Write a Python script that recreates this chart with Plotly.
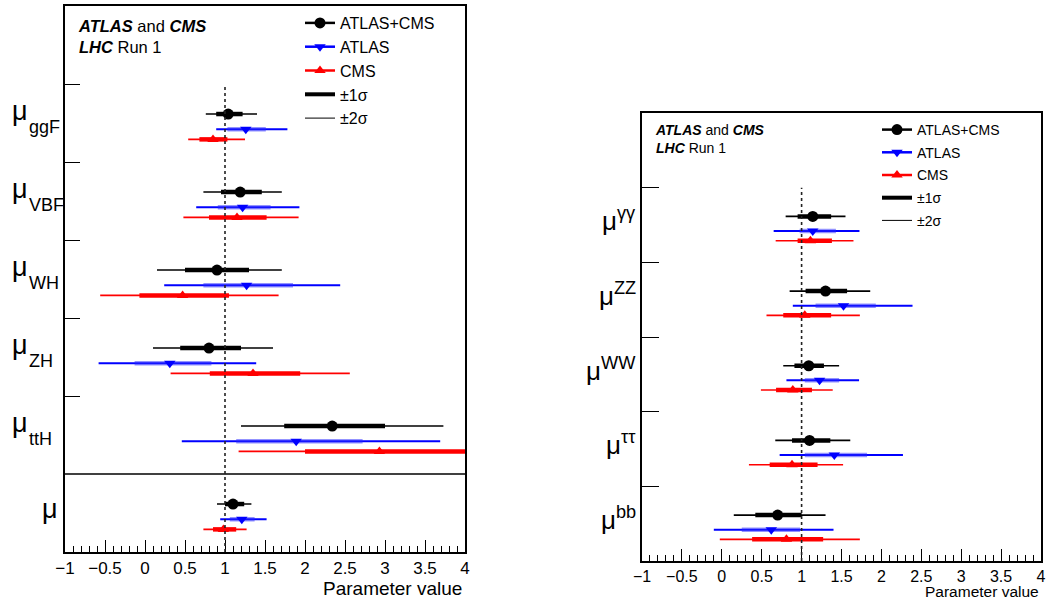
import numpy as np
import plotly.graph_objects as go

# ---------------- data ----------------
prod_names = ["ggF", "VBF", "WH", "ZH", "ttH", ""]   # last = global mu
prod_slots = [5, 4, 3, 2, 1, 0]

comb_c   = [1.04, 1.19, 0.90, 0.80, 2.34, 1.10]
comb_lo1 = [0.89, 0.95, 0.50, 0.44, 1.74, 1.00]
comb_hi1 = [1.22, 1.46, 1.30, 1.20, 3.00, 1.24]
comb_lo2 = [0.76, 0.73, 0.15, 0.10, 1.20, 0.90]
comb_hi2 = [1.40, 1.71, 1.71, 1.60, 3.73, 1.33]

atlas_c   = [1.26, 1.22, 1.27, 0.31, 1.89, 1.21]
atlas_lo1 = [1.03, 0.91, 0.73, -0.13, 1.14, 1.06]
atlas_hi1 = [1.51, 1.57, 1.85, 0.83, 2.72, 1.37]
atlas_lo2 = [0.89, 0.64, 0.24, -0.58, 0.46, 0.94]
atlas_hi2 = [1.78, 1.93, 2.44, 1.39, 3.69, 1.52]

cms_c   = [0.85, 1.15, 0.47, 1.35, 2.93, 0.98]
cms_lo1 = [0.68, 0.80, -0.07, 0.81, 2.00, 0.85]
cms_hi1 = [1.03, 1.52, 1.05, 1.94, 4.10, 1.14]
cms_lo2 = [0.54, 0.48, -0.56, 0.32, 1.17, 0.73]
cms_hi2 = [1.25, 1.92, 1.67, 2.56, 5.00, 1.27]

decay_names = ["γγ", "ZZ", "WW", "ττ", "bb"]
decay_slots = [4, 3, 2, 1, 0]

dcomb_c   = [1.14, 1.30, 1.09, 1.10, 0.70]
dcomb_lo1 = [0.95, 1.05, 0.91, 0.88, 0.42]
dcomb_hi1 = [1.37, 1.57, 1.28, 1.36, 1.00]
dcomb_lo2 = [0.80, 0.85, 0.77, 0.67, 0.15]
dcomb_hi2 = [1.55, 1.86, 1.47, 1.61, 1.30]

datlas_c   = [1.14, 1.525, 1.225, 1.41, 0.62]
datlas_lo1 = [0.975, 1.175, 1.04, 1.04, 0.25]
datlas_hi1 = [1.43, 1.93, 1.47, 1.82, 0.98]
datlas_lo2 = [0.65, 0.89, 0.81, 0.725, -0.10]
datlas_hi2 = [1.725, 2.39, 1.72, 2.27, 1.40]

dcms_c   = [1.11, 1.04, 0.89, 0.88, 0.81]
dcms_lo1 = [0.95, 0.77, 0.68, 0.60, 0.38]
dcms_hi1 = [1.38, 1.37, 1.13, 1.20, 1.27]
dcms_lo2 = [0.675, 0.56, 0.49, 0.34, -0.025]
dcms_hi2 = [1.65, 1.73, 1.39, 1.52, 1.73]

x_ticks = [-1, -0.5, 0, 0.5, 1, 1.5, 2, 2.5, 3, 3.5, 4]

# ---------------- style ----------------
FONT = "Liberation Sans, Arial, Helvetica, sans-serif"
W, H = 1047, 602
series_style = {
    "comb":  dict(name="ATLAS+CMS", color="black", c1="black", sym="circle", size=11, off=0.615, th2=1.6),
    "atlas": dict(name="ATLAS", color="#0000ff", c1="rgba(40,40,255,0.5)", sym="triangle-down", size=10, off=0.42, th2=2.0),
    "cms":   dict(name="CMS", color="#ff0000", c1="#ff0000", sym="triangle-up", size=10, off=0.29, th2=1.6),
}

fig = go.Figure()


def add_series(key, c, lo1, hi1, lo2, hi2, slots, xa, ya):
    st = series_style[key]
    c = np.array(c); lo1 = np.array(lo1); hi1 = np.array(hi1)
    lo2 = np.array(lo2); hi2 = np.array(hi2)
    y = np.array(slots) + st["off"]
    fig.add_trace(go.Scatter(
        x=c, y=y, mode="markers", xaxis=xa, yaxis=ya,
        marker=dict(color="rgba(0,0,0,0)", size=1),
        error_x=dict(type="data", symmetric=False, array=hi2 - c, arrayminus=c - lo2,
                     width=0, thickness=st["th2"], color=st["color"]),
        showlegend=False, hoverinfo="skip"))
    fig.add_trace(go.Scatter(
        x=c, y=y, mode="markers", xaxis=xa, yaxis=ya,
        marker=dict(color=st["color"], size=st["size"], symbol=st["sym"]),
        error_x=dict(type="data", symmetric=False, array=hi1 - c, arrayminus=c - lo1,
                     width=0, thickness=4.5, color=st["c1"]),
        showlegend=False))


add_series("comb", comb_c, comb_lo1, comb_hi1, comb_lo2, comb_hi2, prod_slots, "x", "y")
add_series("atlas", atlas_c, atlas_lo1, atlas_hi1, atlas_lo2, atlas_hi2, prod_slots, "x", "y")
add_series("cms", cms_c, cms_lo1, cms_hi1, cms_lo2, cms_hi2, prod_slots, "x", "y")
add_series("comb", dcomb_c, dcomb_lo1, dcomb_hi1, dcomb_lo2, dcomb_hi2, decay_slots, "x2", "y2")
add_series("atlas", datlas_c, datlas_lo1, datlas_hi1, datlas_lo2, datlas_hi2, decay_slots, "x2", "y2")
add_series("cms", dcms_c, dcms_lo1, dcms_hi1, dcms_lo2, dcms_hi2, decay_slots, "x2", "y2")

# legend entries (both panels); one legend group per entry so tracegroupgap sets row spacing
for lg, xa, ya in [("legend", "x", "y"), ("legend2", "x2", "y2")]:
    for key in ["comb", "atlas", "cms"]:
        st = series_style[key]
        fig.add_trace(go.Scatter(x=[None], y=[None], xaxis=xa, yaxis=ya, mode="lines+markers",
                                 name=st["name"], legend=lg, legendgroup=lg + key,
                                 line=dict(color=st["color"], width=2.5),
                                 marker=dict(color=st["color"], size=st["size"], symbol=st["sym"])))
    fig.add_trace(go.Scatter(x=[None], y=[None], xaxis=xa, yaxis=ya, mode="lines", name="±1σ",
                             legend=lg, legendgroup=lg + "s1", line=dict(color="black", width=4)))
    fig.add_trace(go.Scatter(x=[None], y=[None], xaxis=xa, yaxis=ya, mode="lines", name="±2σ",
                             legend=lg, legendgroup=lg + "s2", line=dict(color="black", width=1)))

# ---------------- axes ----------------
L = dict(x0=65, x1=465, y0=6, y1=552)
R = dict(x0=642, x1=1041, y0=113, y1=561)

xcommon = dict(range=[-1, 4], tickvals=x_ticks, ticks="inside", ticklen=12, tickwidth=1.3,
               tickcolor="black", showline=True, linewidth=1.6, linecolor="black", mirror=True,
               showgrid=False, zeroline=False, automargin=False,
               minor=dict(dtick=0.1, ticks="inside", ticklen=6, tickwidth=1, tickcolor="black",
                          showgrid=False),
               fixedrange=True)
ycommon = dict(ticks="inside", tickwidth=1.3, tickcolor="black", showticklabels=False,
               showline=True, linewidth=1.6, linecolor="black", mirror=True, showgrid=False,
               zeroline=False, automargin=False, fixedrange=True)

fig.update_layout(
    template="none",
    width=W, height=H, autosize=False, margin=dict(l=0, r=0, t=0, b=0, pad=0),
    paper_bgcolor="white", plot_bgcolor="white",
    font=dict(family=FONT, color="black"),
    xaxis=dict(domain=[L["x0"] / W, L["x1"] / W], anchor="y",
               tickfont=dict(family=FONT, size=17, color="black"), **xcommon),
    yaxis=dict(domain=[1 - L["y1"] / H, 1 - L["y0"] / H], anchor="x", range=[0, 7],
               tickvals=[2, 3, 4, 5, 6], ticklen=15, **ycommon),
    xaxis2=dict(domain=[R["x0"] / W, R["x1"] / W], anchor="y2",
                tickfont=dict(family=FONT, size=16, color="black"), **xcommon),
    yaxis2=dict(domain=[1 - R["y1"] / H, 1 - R["y0"] / H], anchor="x2", range=[0, 6],
                tickvals=[1, 2, 3, 4, 5], ticklen=17, **ycommon),
    legend=dict(x=300 / W, y=1 - 6 / H, xanchor="left", yanchor="top",
                font=dict(family=FONT, size=16, color="black"), bgcolor="rgba(0,0,0,0)",
                tracegroupgap=0, itemwidth=30, traceorder="grouped"),
    legend2=dict(x=877 / W, y=1 - 114 / H, xanchor="left", yanchor="top",
                 font=dict(family=FONT, size=14, color="black"), bgcolor="rgba(0,0,0,0)",
                 tracegroupgap=1.5, itemwidth=30, traceorder="grouped"),
    showlegend=True,
)

shapes = []
# separator line in left panel
shapes.append(dict(type="line", xref="x", yref="y", x0=-1, x1=4, y0=1, y1=1,
                   line=dict(color="black", width=1.6)))
# SM reference lines
shapes.append(dict(type="line", xref="x", yref="y", x0=1, x1=1, y0=0, y1=6,
                   line=dict(color="#222", width=1.6, dash="3px,3px")))
shapes.append(dict(type="line", xref="x2", yref="y2", x0=1, x1=1, y0=0, y1=5,
                   line=dict(color="#222", width=1.6, dash="3px,3px")))
fig.update_layout(shapes=shapes)

ann = []
lpx = (L["y1"] - L["y0"]) / 7.0
rpx = (R["y1"] - R["y0"]) / 6.0
# left labels
for name, s in zip(prod_names, prod_slots):
    if name:
        ann.append(dict(text="μ", xref="paper", yref="y", x=19.5 / W, y=s + 1 - 27 / lpx,
                        xanchor="center", yanchor="middle", showarrow=False,
                        font=dict(family=FONT, size=27)))
        ann.append(dict(text=name, xref="paper", yref="y", x=27 / W, y=s + 1 - 43 / lpx,
                        xanchor="left", yanchor="middle", showarrow=False,
                        font=dict(family=FONT, size=18)))
    else:
        ann.append(dict(text="μ", xref="paper", yref="y", x=50 / W, y=s + 1 - 35 / lpx,
                        xanchor="center", yanchor="middle", showarrow=False,
                        font=dict(family=FONT, size=27)))
# right labels
for name, s in zip(decay_names, decay_slots):
    ann.append(dict(text="μ<sup>" + name + "</sup>", xref="paper", yref="y2", x=638 / W,
                    y=s + 1 - 32 / rpx, xanchor="right", yanchor="middle", showarrow=False,
                    font=dict(family=FONT, size=26)))
# headers
ann.append(dict(text="<b><i>ATLAS</i></b> and <b><i>CMS</i></b><br><b><i>LHC</i></b> Run 1",
                xref="paper", yref="paper", x=76 / W, y=1 - 36.5 / H, xanchor="left",
                yanchor="middle", align="left", showarrow=False, font=dict(family=FONT, size=16.5)))
ann.append(dict(text="<b><i>ATLAS</i></b> and <b><i>CMS</i></b><br><b><i>LHC</i></b> Run 1",
                xref="paper", yref="paper", x=653 / W, y=1 - 138.5 / H, xanchor="left",
                yanchor="middle", align="left", showarrow=False, font=dict(family=FONT, size=14)))
# axis titles
ann.append(dict(text="Parameter value", xref="paper", yref="paper", x=464 / W, y=1 - 588 / H,
                xanchor="right", yanchor="middle", showarrow=False, font=dict(family=FONT, size=19)))
ann.append(dict(text="Parameter value", xref="paper", yref="paper", x=1041 / W, y=0,
                xanchor="right", yanchor="bottom", showarrow=False, font=dict(family=FONT, size=15.5)))
fig.update_layout(annotations=ann)

fig.write_html("out.html",
               config={"displayModeBar": False, "responsive": False},
               post_script="document.body.style.margin='0';document.body.style.padding='0';"
                           "document.body.style.overflow='hidden';")
